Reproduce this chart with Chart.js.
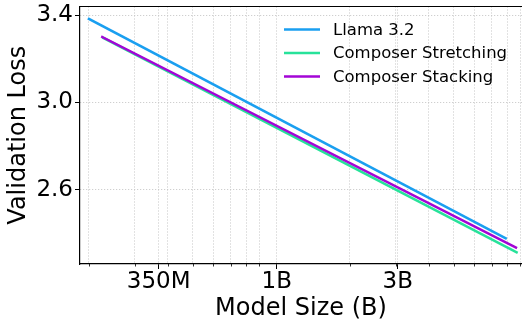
<!DOCTYPE html>
<html>
<head>
<meta charset="utf-8">
<script src="https://cdn.jsdelivr.net/npm/chart.js@4"></script>
<style>
  html, body { margin: 0; padding: 0; background: #fff; }
  canvas { display: block; }
</style>
</head>
<body>
<canvas id="lossChart" width="522" height="320"></canvas>
<script>
// Values (model size in billions)
const llamaSizes = [0.2, 7.9];
const llamaLoss = [3.382, 2.377];
const stretchSizes = [0.227, 8.7];
const stretchLoss = [3.295, 2.313];
const stackSizes = [0.225, 8.65];
const stackLoss = [3.299, 2.334];

const seriesNames = ['Llama 3.2', 'Composer Stretching', 'Composer Stacking'];
const seriesColors = ['#1a9ff0', '#27e29a', '#a305d6'];

const xTickValues = [0.37, 1.048, 3.05];
const xTickLabels = ['350M', '1B', '3B'];
const xMinorValues = [0.2, 0.3, 0.4, 0.5, 0.6, 0.7, 0.8, 0.9, 2, 3, 4, 5, 6, 7, 8, 9];
const yTickValues = [2.6, 3.0, 3.4];

const FONT = 'DejaVu Sans';

function toPoints(xs, ys) {
  return xs.map((x, i) => ({ x: x, y: ys[i] }));
}

function isMajor(value) {
  return xTickValues.some(v => Math.abs(v - value) < 1e-9);
}

// top spine, minor tick marks and the legend box
const extrasPlugin = {
  id: 'extras',
  afterDraw(chart) {
    const ctx = chart.ctx;
    const area = chart.chartArea;
    const xScale = chart.scales.x;

    ctx.save();
    ctx.strokeStyle = '#000';
    ctx.lineWidth = 1.2;
    ctx.beginPath();
    ctx.moveTo(area.left, area.top);
    ctx.lineTo(area.right, area.top);
    ctx.stroke();

    ctx.lineWidth = 0.8;
    xMinorValues.forEach(v => {
      const px = Math.round(xScale.getPixelForValue(v)) + 0.5;
      ctx.beginPath();
      ctx.moveTo(px, area.bottom);
      ctx.lineTo(px, area.bottom + 2.5);
      ctx.stroke();
    });

    // legend
    ctx.font = '16.5px "' + FONT + '"';
    ctx.textBaseline = 'middle';
    ctx.textAlign = 'left';
    chart.data.datasets.forEach((ds, i) => {
      const y = 29.5 + i * 23.5;
      ctx.strokeStyle = ds.borderColor;
      ctx.lineWidth = 2.5;
      ctx.beginPath();
      ctx.moveTo(284, y);
      ctx.lineTo(320, y);
      ctx.stroke();
      ctx.fillStyle = '#000';
      ctx.fillText(ds.label, 333, y + 1);
    });
    ctx.restore();
  }
};

document.addEventListener('DOMContentLoaded', function() {
  const canvas = document.getElementById('lossChart');

  new Chart(canvas, {
    type: 'line',
    data: {
      datasets: [
        {
          label: seriesNames[0],
          data: toPoints(llamaSizes, llamaLoss),
          borderColor: seriesColors[0],
          order: 2
        },
        {
          label: seriesNames[1],
          data: toPoints(stretchSizes, stretchLoss),
          borderColor: seriesColors[1],
          order: 1
        },
        {
          label: seriesNames[2],
          data: toPoints(stackSizes, stackLoss),
          borderColor: seriesColors[2],
          order: 0
        }
      ]
    },
    options: {
      responsive: false,
      animation: false,
      devicePixelRatio: 1,
      layout: { padding: { top: 6.5, right: 0, left: 0, bottom: 0 } },
      elements: {
        line: { borderWidth: 2.5, tension: 0, fill: false, borderCapStyle: 'square' },
        point: { radius: 0 }
      },
      plugins: {
        legend: { display: false },
        tooltip: { enabled: false }
      },
      scales: {
        x: {
          type: 'logarithmic',
          min: 0.1848,
          max: 9.125,
          afterBuildTicks(scale) {
            scale.ticks = xTickValues.concat(xMinorValues)
              .sort((a, b) => a - b)
              .map(v => ({ value: v }));
          },
          afterFit(scale) {
            scale.height = 56;
            scale.paddingLeft = 0;
            scale.paddingRight = 0;
          },
          ticks: {
            autoSkip: false,
            maxRotation: 0,
            padding: -1,
            color: '#000',
            font: { family: FONT, size: 23 },
            callback(value) {
              const idx = xTickValues.findIndex(v => Math.abs(v - value) < 1e-9);
              return idx >= 0 ? xTickLabels[idx] : '';
            }
          },
          grid: {
            color: '#c4c4c4',
            lineWidth: 1,
            tickLength: 5,
            tickWidth: 1,
            tickColor: ctx => (ctx.tick && isMajor(ctx.tick.value)) ? '#000' : 'rgba(0,0,0,0)'
          },
          border: { display: true, color: '#000', width: 1.2, dash: [1, 2] },
          title: {
            display: true,
            text: 'Model Size (B)',
            color: '#000',
            font: { family: FONT, size: 24, lineHeight: 0.9 },
            padding: { top: 0, bottom: 0 }
          }
        },
        y: {
          type: 'linear',
          min: 2.259,
          max: 3.439,
          afterBuildTicks(scale) {
            scale.ticks = yTickValues.map(v => ({ value: v }));
          },
          afterFit(scale) {
            scale.width = 80;
            scale.paddingTop = 0;
            scale.paddingBottom = 0;
          },
          ticks: {
            padding: 2,
            color: '#000',
            font: { family: FONT, size: 23 },
            callback: value => value.toFixed(1)
          },
          grid: {
            color: '#c4c4c4',
            lineWidth: 1,
            tickLength: 5,
            tickWidth: 1,
            tickColor: '#000'
          },
          border: { display: true, color: '#000', width: 1.2, dash: [1, 2] },
          title: {
            display: true,
            text: 'Validation Loss',
            color: '#000',
            font: { family: FONT, size: 24 },
            padding: { top: 4, bottom: 0 }
          }
        }
      }
    },
    plugins: [extrasPlugin]
  });
});
</script>
</body>
</html>
